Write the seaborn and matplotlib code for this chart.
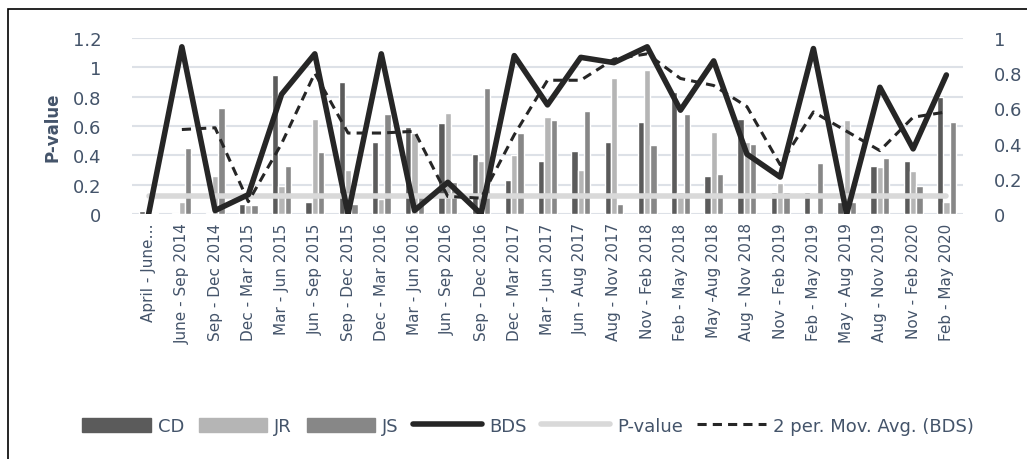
import matplotlib
matplotlib.use("Agg")
import matplotlib.pyplot as plt
import numpy as np
import pandas as pd
import seaborn as sns
from matplotlib.lines import Line2D
from matplotlib.patches import Patch, Rectangle

# ----------------------
# Data
# ----------------------
periods = [
    "April - June…", "June - Sep 2014", "Sep - Dec 2014", "Dec - Mar 2015",
    "Mar - Jun 2015", "Jun - Sep 2015", "Sep - Dec 2015", "Dec - Mar 2016",
    "Mar - Jun 2016", "Jun - Sep 2016", "Sep - Dec 2016", "Dec - Mar 2017",
    "Mar - Jun 2017", "Jun - Aug 2017", "Aug - Nov 2017", "Nov - Feb 2018",
    "Feb - May 2018", "May -Aug 2018", "Aug - Nov 2018", "Nov - Feb 2019",
    "Feb - May 2019", "May - Aug 2019", "Aug - Nov 2019", "Nov - Feb 2020",
    "Feb - May 2020",
]

cd = [0.02, 0.005, 0.005, 0.07, 0.95, 0.08, 0.90, 0.49, 0.59, 0.62, 0.41, 0.23, 0.36,
      0.43, 0.49, 0.63, 0.83, 0.26, 0.65, 0.15, 0.15, 0.08, 0.33, 0.36, 0.80]
jr = [0.01, 0.08, 0.26, 0.06, 0.19, 0.65, 0.30, 0.10, 0.55, 0.69, 0.36, 0.40, 0.66,
      0.30, 0.93, 0.98, 0.15, 0.56, 0.49, 0.21, 0.0, 0.64, 0.32, 0.29, 0.08]
js = [0.01, 0.45, 0.72, 0.06, 0.33, 0.42, 0.07, 0.68, 0.14, 0.22, 0.86, 0.55, 0.64,
      0.70, 0.07, 0.47, 0.68, 0.27, 0.48, 0.15, 0.35, 0.08, 0.38, 0.19, 0.63]

bds = [0.0, 0.95, 0.02, 0.11, 0.68, 0.91, 0.0, 0.91, 0.02, 0.18, 0.0, 0.90, 0.62,
       0.89, 0.86, 0.95, 0.59, 0.87, 0.34, 0.21, 0.94, 0.0, 0.72, 0.37, 0.79]
bds_ma = [np.nan, 0.48, 0.49, 0.07, 0.40, 0.80, 0.46, 0.46, 0.47, 0.10, 0.09, 0.45, 0.76,
          0.76, 0.88, 0.91, 0.77, 0.73, 0.61, 0.28, 0.58, 0.47, 0.36, 0.55, 0.58]
p_value = [0.1] * len(periods)

series_names = ["CD", "JR", "JS"]
bar_colors = ["#5b5b5b", "#b5b5b5", "#878787"]

text_color = "#44546a"

# long format for seaborn
df_bars = pd.DataFrame({"period": periods, "CD": cd, "JR": jr, "JS": js})
df_bars = df_bars.melt(id_vars="period", var_name="series", value_name="pval")

df_lines = pd.DataFrame({
    "pos": np.arange(len(periods)),
    "BDS": bds,
    "MA": bds_ma,
    "P": p_value,
})

# ----------------------
# Figure
# ----------------------
sns.set_style("white")
plt.rcParams["font.family"] = ["DejaVu Sans"]

fig = plt.figure(figsize=(10.27, 4.6), dpi=100)
ax = fig.add_axes([132 / 1027, 1 - 215 / 460, (963 - 132) / 1027, 176 / 460])

sns.barplot(
    data=df_bars, x="period", y="pval", hue="series", order=periods,
    hue_order=series_names, palette=bar_colors, width=0.57, gap=0,
    saturation=1, legend=False, ax=ax,
)

ax.set_ylim(0, 1.2)
ax.set_xlim(-0.5, len(periods) - 0.5)
ax.set_yticks(np.arange(0, 1.21, 0.2))
ax.set_yticklabels(["0", "0.2", "0.4", "0.6", "0.8", "1", "1.2"])
ax.grid(True, axis="y", color="#dde1e7", linewidth=1.5)
ax.set_axisbelow(True)
for s in ax.spines.values():
    s.set_visible(False)
ax.tick_params(axis="y", length=0, pad=22, labelsize=13, labelcolor=text_color)
ax.tick_params(axis="x", length=0, pad=6, labelsize=11, labelcolor=text_color)
plt.setp(ax.get_xticklabels(), rotation=90)
ax.set_xlabel("")
ax.set_ylabel("P-value", fontsize=12, fontweight="bold", color=text_color, labelpad=8)

# secondary axis for BDS lines
ax2 = ax.twinx()
sns.lineplot(data=df_lines, x="pos", y="P", color="#d9d9d9", linewidth=4, ax=ax2)
sns.lineplot(data=df_lines, x="pos", y="BDS", color="#262626", linewidth=4, ax=ax2)
sns.lineplot(data=df_lines, x="pos", y="MA", color="#262626", linewidth=2.2,
             linestyle=(0, (3, 2)), ax=ax2)
ax2.set_ylim(0, 1.0)
ax2.set_xlim(-0.5, len(periods) - 0.5)
ax2.set_yticks(np.arange(0, 1.01, 0.2))
ax2.set_yticklabels(["0", "0.2", "0.4", "0.6", "0.8", "1"])
ax2.set_ylabel("")
ax2.set_xlabel("")
for s in ax2.spines.values():
    s.set_visible(False)
ax2.tick_params(axis="y", length=0, pad=22, labelsize=13, labelcolor=text_color)

# legend at the bottom
handles = [Patch(color=c) for c in bar_colors]
handles += [
    Line2D([], [], color="#262626", linewidth=4),
    Line2D([], [], color="#d9d9d9", linewidth=4),
    Line2D([], [], color="#262626", linewidth=2.2, linestyle=(0, (3, 2))),
]
labels = series_names + ["BDS", "P-value", "2 per. Mov. Avg. (BDS)"]
fig.legend(
    handles, labels, loc="center", bbox_to_anchor=(528 / 1027, 1 - 427 / 460),
    ncol=6, frameon=False, fontsize=13, labelcolor=text_color,
    handlelength=3.8, handleheight=0.8, handletextpad=0.4, columnspacing=0.8,
)

# outer frame (cut at the right and bottom edges)
fig.patches.append(Rectangle((8 / 1027, -0.1), 1.2, 1 - 10 / 460 + 0.1,
                             transform=fig.transFigure, fill=False,
                             edgecolor="black", linewidth=1.2))

fig.savefig("out.png", dpi=100)
